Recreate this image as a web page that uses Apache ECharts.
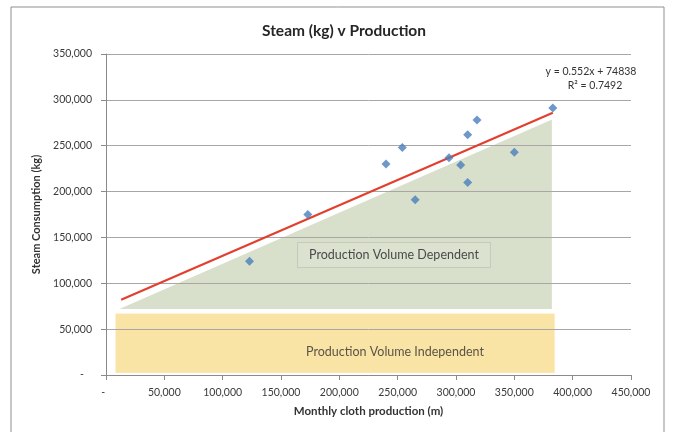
<!DOCTYPE html>
<html>
<head>
<meta charset="utf-8">
<script src="https://cdn.jsdelivr.net/npm/echarts@6/dist/echarts.min.js"></script>
<style>
  html, body { margin: 0; padding: 0; background: #fff; }
  #chart { width: 675px; height: 432px; }
</style>
</head>
<body>
<div id="chart"></div>
<script>
// monthly cloth production (m) v steam (kg)
const production = [123000, 173000, 240000, 254000, 265000, 294000, 304000, 310000, 310000, 318000, 350000, 383000]
const steam = [124000, 175000, 230000, 248000, 191000, 237000, 229000, 262000, 210000, 278000, 243000, 291000]

// linear trendline y = 0.552x + 74838, ends as drawn
const trendX = [13000, 383000]
const trendY = [82000, 286000]
const equationText = ['y = 0.552x + 74838', 'R\u00b2 = 0.7492']

// shaded regions behind the points
const dependentArea = [[7700, 71000], [383000, 280000], [383000, 71000]]
const independentBand = [[7700, 1800], [385000, 67500]]
const regionLabels = ['Production Volume Dependent', 'Production Volume Independent']

const xTicks = [0, 450000, 50000]
const yTicks = [0, 350000, 50000]

const fmt = v => String(v).replace(/\B(?=(\d{3})+(?!\d))/g, ',')
const font = 'Lato'

const chart = echarts.init(document.getElementById('chart'))

chart.setOption({
  backgroundColor: '#fff',
  animation: false,
  textStyle: { fontFamily: font },
  title: {
    text: 'Steam (kg) v Production',
    left: 339,
    textAlign: 'center',
    top: 18,
    textStyle: { fontFamily: font, fontSize: 15.5, fontWeight: 'bold', color: '#262626' }
  },
  grid: { left: 106, top: 54, right: 44, bottom: 57 },
  xAxis: {
    type: 'value',
    min: xTicks[0],
    max: xTicks[1],
    interval: xTicks[2],
    z: 3,
    name: 'Monthly cloth production (m)',
    nameLocation: 'middle',
    nameGap: 30,
    nameTextStyle: { fontFamily: font, fontSize: 11.5, fontWeight: 'bold', color: '#333' },
    axisLine: { lineStyle: { color: '#8a8a8a' } },
    axisTick: { show: true, length: 5, lineStyle: { color: '#8a8a8a' } },
    axisLabel: {
      fontSize: 10.5, color: '#3a3a3a', margin: 12,
      formatter: v => (v === 0 ? '-  ' : fmt(v))
    },
    splitLine: { show: false }
  },
  yAxis: {
    type: 'value',
    min: yTicks[0],
    max: yTicks[1],
    interval: yTicks[2],
    z: 3,
    name: 'Steam Consumption (kg)',
    nameLocation: 'middle',
    nameRotate: 90,
    nameGap: 61,
    nameTextStyle: { fontFamily: font, fontSize: 11, fontWeight: 'bold', color: '#333' },
    axisLine: { show: true, lineStyle: { color: '#8a8a8a' } },
    axisTick: { show: true, length: 5, lineStyle: { color: '#8a8a8a' } },
    axisLabel: {
      fontSize: 10.5, color: '#3a3a3a', margin: 14,
      formatter: v => (v === 0 ? '-   ' : fmt(v))
    },
    splitLine: { lineStyle: { color: '#aaa6a6', width: 1 } }
  },
  series: [
    {
      type: 'custom',
      z: 1,
      silent: true,
      data: [0],
      renderItem: (params, api) => {
        const a = api.coord(independentBand[0])
        const b = api.coord(independentBand[1])
        return {
          type: 'group',
          children: [
            {
              type: 'rect',
              shape: { x: a[0], y: b[1], width: b[0] - a[0], height: a[1] - b[1] },
              style: { fill: '#f9e4a6', stroke: '#fff', lineWidth: 1 }
            },
            {
              type: 'polygon',
              shape: { points: dependentArea.map(p => api.coord(p)) },
              style: { fill: '#d8dfcb', stroke: '#fff', lineWidth: 2 }
            }
          ]
        }
      }
    },
    {
      type: 'line',
      z: 4,
      data: trendX.map((x, i) => [x, trendY[i]]),
      showSymbol: false,
      lineStyle: { color: '#e2402e', width: 2.2 }
    },
    {
      type: 'scatter',
      z: 5,
      data: production.map((x, i) => [x, steam[i]]),
      symbol: 'diamond',
      symbolSize: 9,
      itemStyle: { color: '#4a7ebb' }
    }
  ],
  graphic: [
    {
      type: 'rect',
      silent: true,
      shape: { x: 11, y: 7, width: 653, height: 440 },
      style: { fill: null, stroke: '#8f8f8f', lineWidth: 1 }
    },
    {
      type: 'text',
      x: 591, y: 72,
      style: { text: equationText[0], font: '10.5px Lato', fill: '#333', align: 'center', verticalAlign: 'middle' }
    },
    {
      type: 'text',
      x: 595, y: 86,
      style: { text: equationText[1], font: '10.5px Lato', fill: '#333', align: 'center', verticalAlign: 'middle' }
    },
    {
      type: 'text',
      x: 394, y: 255,
      z: 10,
      style: {
        text: regionLabels[0], font: '12.5px Lato', fill: '#4a4a4a',
        align: 'center', verticalAlign: 'middle',
        backgroundColor: '#dbe2cf', borderColor: '#c5cabb', borderWidth: 1,
        padding: [6, 11, 5, 11]
      }
    },
    {
      type: 'text',
      x: 395, y: 352,
      z: 10,
      style: { text: regionLabels[1], font: '12.5px Lato', fill: '#5a5446', align: 'center', verticalAlign: 'middle' }
    }
  ]
})
</script>
</body>
</html>
